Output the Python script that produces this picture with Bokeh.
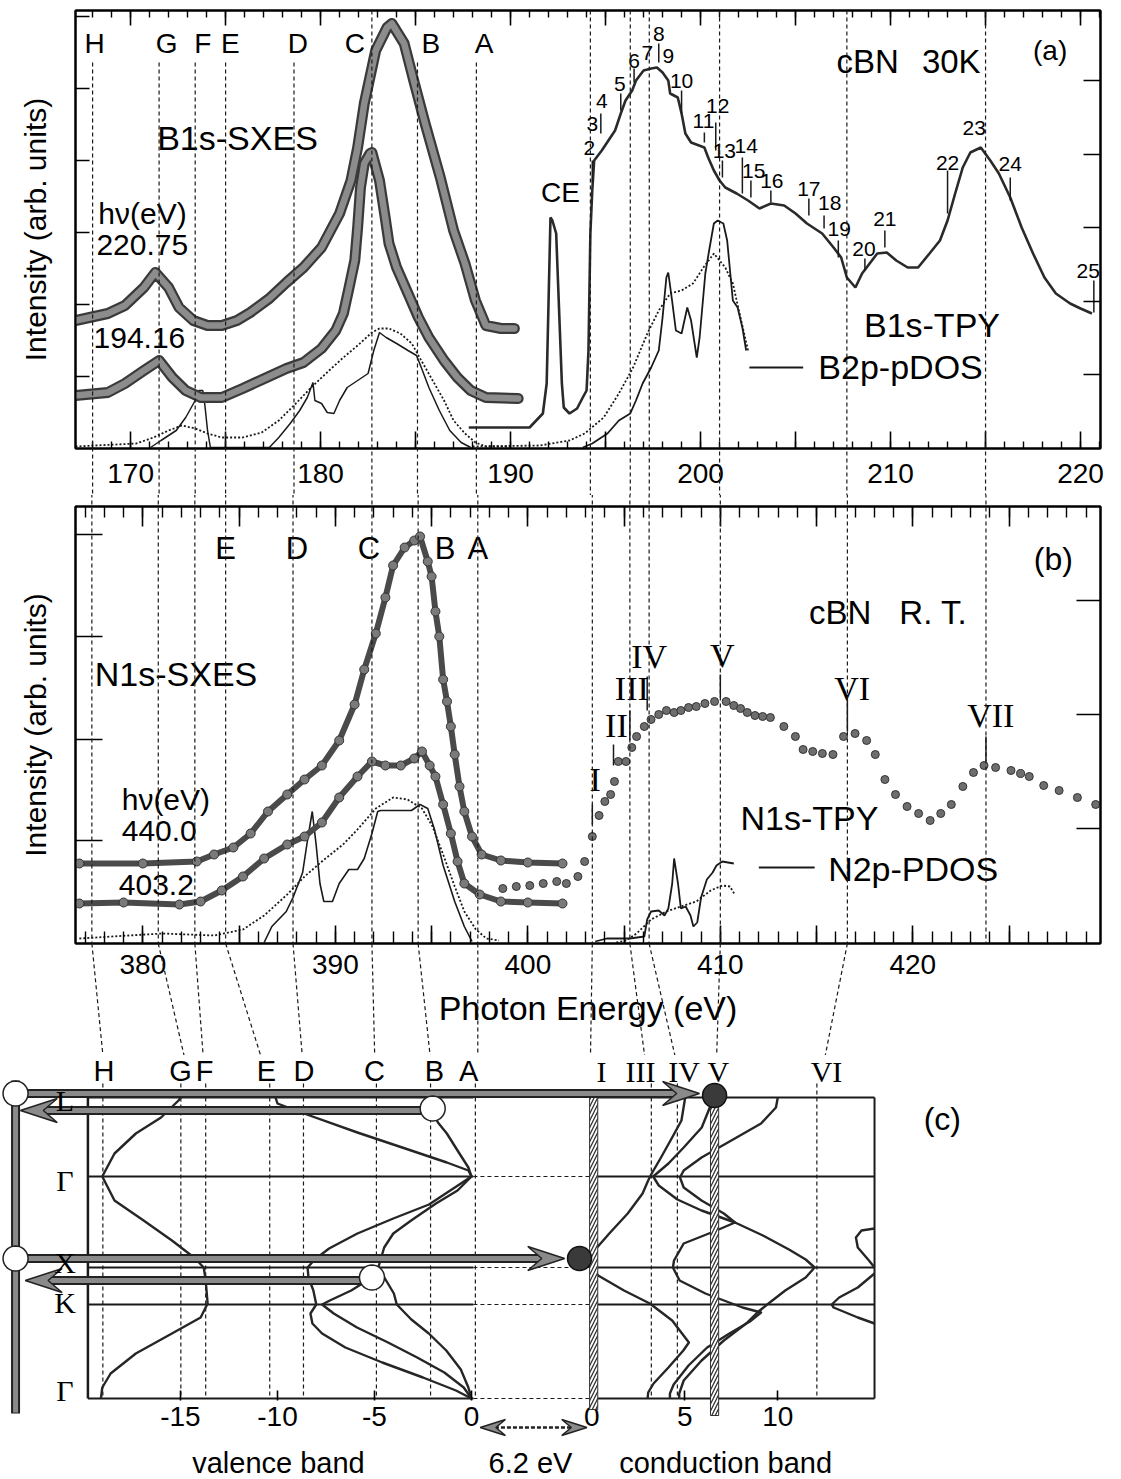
import numpy as np
from bokeh.plotting import figure
from bokeh.models import (Range1d, LinearAxis, FixedTicker, SingleIntervalTicker,
                          CustomJSTickFormatter)
from bokeh.layouts import column
from bokeh.embed import file_html
from bokeh.resources import INLINE
from bokeh.core.properties import value

SANS = "Liberation Sans"
SERIF = "Liberation Serif"
INK = "#1a1a1a"
DASH = "4 3"


def xy(pairs):
    return [p[0] for p in pairs], [p[1] for p in pairs]

# ====================== Panel (a): B 1s (photon energy eV, intensity arb.) ======================
a_sxes_220 = [(167.1,128),(168.8,135),(169.7,143),(170.7,161),(171.3,176),(172.0,161),(172.55,141),
              (173.3,128),(174.05,123),(174.8,123),(175.6,128),(176.3,136),(177.3,150),(178.2,166),
              (179.1,181),(180.05,201),(181.0,235),(181.6,268),(181.95,301),(182.3,345),(182.9,398),
              (183.5,421),(183.75,425),(184.4,405),(184.9,368),(185.5,325),(186.3,271),(187.0,218),
              (187.6,185),(188.15,148),(188.7,123),(189.5,120),(190.2,120)]
a_sxes_194 = [(167.1,53),(168.8,56),(169.7,65),(170.7,78),(171.5,88),(172.2,71),(172.9,58),(173.7,51),
              (174.8,51),(175.9,60),(177.05,70),(178.2,80),(179.1,86),(180.05,100),(180.8,118),(181.2,135),
              (181.5,161),(181.8,188),(181.95,221),(182.1,261),(182.3,285),(182.6,295),(182.7,296),
              (183.1,268),(183.4,231),(183.6,205),(184.0,181),(184.6,155),(185.15,131),(185.7,111),
              (186.5,88),(187.2,71),(187.9,58),(188.7,51),(190.4,50)]
a_val_broad = [(167.1,2),(170.3,5),(171.2,11),(172.0,18),(172.7,23),(173.4,20),(174.05,15),(174.8,11),
               (175.9,11),(176.9,16),(177.8,28),(178.7,45),(179.5,61),(180.45,78),(181.2,91),(181.95,103),
               (182.7,116),(183.1,120),(183.6,120),(184.2,115),(184.8,105),(185.3,88),(185.9,68),
               (186.5,48),(187.0,28),(187.6,15),(188.15,6),(188.7,2),(190.0,2)]
a_val_pdos = [(171.05,1),(171.6,8),(172.4,18),(172.9,31),(173.4,48),(173.6,58),(173.8,58),(173.9,45),
              (174.05,18),(174.2,1),(177.3,1),(177.8,11),(178.4,25),(178.9,38),(179.3,51),(179.6,66),
              (179.7,48),(180.05,45),(180.35,36),(180.7,35),(181.0,48),(181.4,61),(181.95,68),(182.5,75),
              (182.8,98),(183.1,116),(183.45,111),(184.0,105),(184.6,98),(185.05,93),(185.3,81),
              (185.7,61),(186.25,38),(186.8,18),(187.4,6),(187.9,1)]
a_tpy = [(187.8,21),(191.0,21),(191.7,35),(191.9,65),(192.0,148),(192.1,231),(192.2,228),(192.4,215),
         (192.5,165),(192.6,115),(192.7,65),(192.8,41),(193.1,35),(193.5,40),(193.8,51),(194.0,58),
         (194.1,98),(194.2,215),(194.3,258),(194.4,288),(194.8,298),(195.15,308),(195.5,318),(195.8,335),
         (196.05,348),(196.4,358),(196.6,368),(197.0,378),(197.4,380),(197.7,381),(198.0,376),(198.3,368),
         (198.4,355),(198.8,351),(199.0,335),(199.2,315),(199.5,306),(200.2,301),(200.4,291),(200.7,278),
         (201.0,268),(201.3,261),(201.9,255),(202.5,248),(203.1,240),(203.7,245),(204.4,243),(205.0,235),
         (205.6,225),(206.4,215),(207.0,201),(207.4,191),(207.7,171),(208.15,161),(208.5,175),(208.9,185),
         (209.3,195),(209.8,196),(210.3,188),(210.9,181),(211.45,181),(212.05,195),(212.6,208),(213.0,228),
         (213.4,255),(213.8,281),(214.2,296),(214.75,301),(215.25,288),(215.7,275),(216.3,251),(216.9,221),
         (217.5,195),(218.1,171),(218.7,155),(219.45,145),(220.0,140),(220.6,135)]
a_cb_pdos = [(193.8,1),(194.3,5),(195.1,15),(195.7,28),(196.3,35),(196.6,48),(196.95,65),(197.4,81),
             (197.8,98),(198.0,131),(198.2,171),(198.3,176),(198.5,148),(198.7,118),(199.0,115),(199.3,141),
             (199.5,128),(199.8,91),(199.95,111),(200.25,175),(200.45,198),(200.7,225),(200.9,228),
             (201.2,225),(201.4,208),(201.6,168),(201.7,148),(201.95,141),(202.2,121),(202.4,98)]
a_cb_broad = [(188.0,2),(191.55,3),(193.1,8),(193.9,15),(194.9,31),(195.7,55),(196.45,81),(197.2,115),
              (197.8,138),(198.4,155),(199.0,158),(199.6,165),(200.15,181),(200.7,195),(201.3,181),
              (201.7,165),(202.1,131),(202.5,98)]
a_feat_left = [168.0, 171.5, 173.4, 175.0, 178.6, 182.7, 185.1, 188.2]
a_feat_left_top = [386, 386, 386, 386, 386, 438, 386, 386]
a_feat_right = [194.2, 196.3, 197.3, 201.0, 207.7, 215.0]
a_letters = ["H", "G", "F", "E", "D", "C", "B", "A"]
a_letter_E = [168.1, 171.9, 173.8, 175.25, 178.8, 181.8, 185.8, 188.6]
a_num_text = ["2","3","4","5","6","7","8","9","10","11","12","13","14","15","16","17","18","19",
              "20","21","22","23","24","25"]
a_num_E = [194.15,194.3,194.8,195.75,196.5,197.2,197.8,198.3,199.0,200.15,200.9,201.25,202.4,202.8,
           203.75,205.7,206.8,207.3,208.6,209.7,213.0,214.4,216.3,220.4]
a_num_I = [301,325,348,365,388,396,415,393,368,328,343,298,303,278,268,260,246,220,200,230,286,321,285,178]
a_tick_E = [194.3,194.75,195.8,196.5,197.8,199.0,200.2,200.8,201.15,202.2,202.65,203.7,205.7,206.5,
            207.25,208.65,209.7,213.0,216.3,220.7]
a_tick_lo = [266,315,338,366,386,335,306,298,271,255,251,246,233,220,191,178,201,235,248,136]
a_tick_hi = [288,335,355,380,405,358,316,326,288,291,268,258,250,233,208,190,218,278,271,168]
a_left_ticks = [72, 144, 216, 288, 360, 432]
a_right_ticks = [74, 147.5, 221, 294.5, 368]

# ====================== Panel (b): N 1s ======================
b_sxes_440 = [(376.7,80),(380.0,80),(382.8,82),(383.7,89),(384.7,96),(385.6,110),(386.5,132),(387.5,149),
              (388.4,164),(389.3,178),(390.2,203),(391.0,239),(391.5,274),(392.1,310),(392.6,346),
              (393.0,378),(393.6,396),(394.1,403),(394.4,407),(394.8,382),(395.0,367),(395.2,332),
              (395.4,307),(395.6,264),(395.8,242),(396.0,217),(396.2,189),(396.45,157),(396.7,132),
              (397.1,107),(397.6,89),(398.6,83),(400.0,81),(401.8,80)]
b_sxes_403 = [(376.7,40),(379.0,41),(381.9,39),(383.0,42),(384.1,53),(385.2,67),(386.3,85),(387.5,99),
              (388.4,107),(389.3,121),(390.2,146),(391.15,167),(391.9,182),(392.6,178),(393.4,178),
              (394.1,185),(394.5,192),(394.9,178),(395.2,167),(395.6,139),(396.0,110),(396.35,82),
              (396.7,60),(397.5,49),(398.6,42),(400.0,41),(401.8,40)]
b_val_broad = [(376.7,5),(381.0,10),(383.7,8),(385.2,14),(386.3,28),(387.5,49),(388.4,67),(389.3,82),
               (390.4,99),(391.15,114),(392.1,135),(393.0,146),(393.75,144),(394.5,135),(395.05,117),
               (395.6,89),(396.2,57),(396.7,32),(397.3,14),(397.85,5),(398.5,3)]
b_val_pdos = [(386.3,1),(386.7,17),(387.45,32),(387.8,46),(388.3,71),(388.55,103),(388.8,132),(389.0,99),
              (389.2,60),(389.4,42),(389.85,42),(390.2,60),(390.7,74),(391.15,74),(391.5,85),(391.9,110),
              (392.2,132),(392.35,133),(393.95,133),(394.4,139),(394.8,135),(395.15,114),(395.6,78),
              (396.2,42),(396.7,17),(397.1,2)]
b_tpy = [(398.7,55),(399.4,57),(400.1,58),(400.8,60),(401.5,62),(402.0,60),(402.6,67),(402.95,82),
         (403.35,107),(403.7,128),(404.0,142),(404.3,149),(404.5,162),(404.7,182),(405.1,182),(405.4,196),
         (405.65,207),(406.05,217),(406.4,224),(406.8,229),(407.2,233),(407.6,231),(407.95,233),(408.35,236),
         (408.75,237),(409.2,240),(409.7,242),(410.3,242),(410.7,238),(411.05,235),(411.4,231),(411.8,228),
         (412.2,227),(412.6,226),(413.3,217),(413.9,207),(414.3,194),(414.8,192),(415.3,190),(415.85,189),
         (416.4,207),(417.0,210),(417.6,203),(418.05,189),(418.55,164),(419.1,149),(419.7,137),(420.3,130),
         (420.9,123),(421.45,130),(422.0,139),(422.6,157),(423.15,171),(423.7,178),(424.3,176),(425.1,173),
         (425.6,170),(426.05,167),(426.8,158),(427.6,153),(428.55,146),(429.5,139)]
b_cb_pdos = [(403.5,2),(404.1,5),(405.3,5),(406.05,7),(406.2,24),(406.4,32),(406.8,33),(407.1,28),
             (407.3,35),(407.5,60),(407.6,85),(407.8,60),(407.95,35),(408.2,37),(408.45,28),(408.6,17),
             (408.8,21),(409.0,46),(409.3,64),(409.6,71),(409.8,78),(410.1,82),(410.7,80)]
b_cb_broad = [(404.6,1),(405.1,3),(405.65,10),(406.4,24),(407.2,32),(407.95,37),(408.75,42),(409.5,53),
              (410.1,58),(410.5,57),(410.75,49)]
b_feat_left = [377.35, 380.8, 382.7, 384.3, 387.8, 391.9, 394.3, 397.4]
b_feat_left_end = [377.95, 382.2, 383.15, 386.2, 388.3, 392.05, 394.95, 397.4]
b_feat_right = [403.35, 405.3, 406.3, 410.0, 416.6]
b_feat_right_end = [403.25, 406.1, 407.7, 409.8, 415.4]
b_feat_vii = 423.8
b_letters = ["E", "D", "C", "B", "A"]
b_letter_E = [384.3, 388.0, 391.75, 395.7, 397.4]
b_roman = ["I", "II", "III", "IV", "V", "VI", "VII"]
b_roman_E = [403.5, 404.6, 405.4, 406.3, 410.1, 416.85, 424.05]
b_roman_I = [164, 218, 255, 287, 288, 255, 228]
b_tick_E = [403.35, 404.45, 405.3, 406.2, 410.0, 416.6, 423.8]
b_tick_lo = [119, 178, 203, 233, 246, 212, 182]
b_tick_hi = [139, 199, 233, 267, 269, 244, 207]
b_left_ticks = [103, 204, 307, 409]
b_right_ticks = [115.5, 229, 343]

# ====================== Panel (c): band structure (energy eV, k-path) ======================
c_k = [0, 79, 170, 207, 301]
c_k_labels = ["L", "Γ", "X", "K", "Γ"]
c_k_label_pos = [3, 83, 165, 205, 293]
c_gap = 6.2
c_vb_left, c_vb_right, c_cb_right = -19.77, 0.1, 15.2
c_vb_feat = [-19.0, -14.98, -13.7, -10.4, -8.66, -4.9, -2.11, 0.2]
c_vb_letters = ["H", "G", "F", "E", "D", "C", "B", "A"]
c_vb_letter_E = [-18.94, -15.0, -13.75, -10.57, -8.63, -5.0, -1.91, -0.15]
c_cb_feat = [3.2, 4.6, 12.1]
c_cb_bars = [0.1, 6.6]
c_cb_roman = ["I", "III", "IV", "V", "VI"]
c_cb_roman_E = [0.52, 2.62, 4.96, 6.8, 12.62]
c_vb1 = [(-14.98,0),(-15.1,3),(-16.0,20),(-17.3,36),(-18.4,56),(-19.03,79),(-18.4,103),(-16.9,123),
         (-15.44,143),(-14.3,160),(-13.8,170),(-13.7,183),(-13.6,206),(-13.96,220),(-15.44,236),
         (-17.3,256),(-18.6,276),(-19.03,290),(-19.1,301)]
c_vb2 = [(-10.1,0),(-10.0,6),(-8.63,16),(-5.88,35),(-3.11,53),(-1.27,65),(-0.16,73),(0,79),(-2.19,107),
         (-4.03,121),(-5.88,136),(-7.34,151),(-8.08,162),(-8.45,170),(-8.4,180),(-8.15,193),(-8.0,207),
         (-8.3,216),(-8.2,226),(-7.7,236),(-6.5,250),(-4.6,265),(-2.5,280),(-0.8,293),(0,301)]
c_vb3 = [(-2.0,0),(-2.0,14),(-1.73,25),(-1.27,36),(-0.72,53),(-0.16,70),(0,79),(-0.72,93),(-1.83,106),
         (-3.11,123),(-4.03,136),(-4.5,150),(-4.7,163),(-4.8,170),(-5.13,180),(-6.2,193),(-7.3,203),
         (-7.7,207),(-7.1,216),(-5.9,230),(-4.3,245),(-2.8,260),(-1.4,275),(-0.4,290),(0,301)]
c_vb4 = [(-4.8,170),(-4.4,183),(-4.0,196),(-3.85,207),(-3.1,222),(-2.2,236),(-1.3,253),(-0.55,272),
         (-0.16,290),(0,301)]
c_cb1 = [(5.02,0),(4.82,23),(4.32,40),(3.72,60),(3.22,76),(3.03,83),(2.73,96),(1.93,116),(0.94,136),
         (0.14,153),(0.0,163),(0.04,171),(0.34,178),(1.73,193),(3.12,206),(4.32,223),(5.22,245),
         (4.92,253),(4.12,270),(3.32,286),(3.03,295),(3.0,301)]
c_cb2 = [(6.55,0),(6.3,12),(5.91,30),(4.94,50),(4.12,66),(3.3,79),(3.6,88),(4.6,102),(5.9,113),
         (7.7,125),(9.2,138),(10.6,152),(11.5,162),(11.98,170),(11.5,180),(10.4,193),(9.5,206),
         (8.9,215),(8.3,226),(7.1,243),(5.9,263),(4.94,283),(4.7,296),(4.7,301)]
c_cb3 = [(10.0,0),(9.9,10),(9.1,26),(7.5,43),(5.9,60),(4.94,73),(4.74,80),(4.94,90),(5.9,103),
         (7.1,116),(7.7,125),(6.7,133),(4.94,146),(4.42,163),(4.36,170),(4.72,183),(6.11,196),
         (8.1,210),(9.1,215),(8.5,224),(7.4,236),(6.2,250),(5.2,268),(4.4,287),(4.2,296),(4.2,301)]
c_cb4 = [(15.2,131),(14.5,133),(14.2,140),(14.3,150),(14.9,163),(15.2,170)]
c_cb5 = [(15.2,176),(14.3,190),(13.3,200),(12.9,207),(13.0,210),(14.3,220),(15.2,226)]
c_path_E = -23.5
c_open_pts = [(-23.5, -4), (-23.5, 161), (-2.0, 11), (-5.13, 180)]
c_cb_dots = [(6.6, -2), (-0.66, 161)]
c_arrows = [(-23.5, -4, 11.75, -4), (-2.0, 13, -23.25, 13), (-23.5, 161, 4.8, 161), (-5.13, 183, -23.0, 183)]
c_bottom_text = ["valence band", "6.2 eV", "conduction band"]
c_bottom_text_E = [-9.95, 3.04, 13.1]

# ====================== helpers ======================
W = 1121


def base_fig(xr, yr, height, top, bottom, left=75, right=21):
    p = figure(width=W, height=height, x_range=xr, y_range=yr, output_backend="svg",
               toolbar_location=None, x_axis_location=None, y_axis_location=None,
               min_border_left=left, min_border_right=right, min_border_top=top,
               min_border_bottom=bottom)
    p.background_fill_color = "white"
    p.border_fill_color = "white"
    p.outline_line_color = "black"
    p.outline_line_width = 2
    p.grid.visible = False
    return p


def style_axis(ax, major_in, minor_in=0, labels=False, size="28px", standoff=10):
    ax.axis_line_color = "black"
    ax.axis_line_width = 2
    ax.major_tick_in = major_in
    ax.major_tick_out = 0
    ax.major_tick_line_color = "black"
    ax.major_tick_line_width = 1.6
    ax.minor_tick_in = minor_in
    ax.minor_tick_out = 0
    ax.minor_tick_line_color = "black" if minor_in else None
    ax.minor_tick_line_width = 1.4
    ax.major_label_text_font = SANS
    ax.major_label_text_font_size = size
    ax.major_label_standoff = standoff
    if labels:
        ax.major_label_text_color = "black"
    else:
        ax.formatter = CustomJSTickFormatter(code="return '';")
        ax.major_label_text_color = None


def spectra_axes(p, lt, rt, llen, rlen, tlen, blen, standoff):
    fmt = CustomJSTickFormatter(code="return (Math.abs(tick % 10) < 1e-6) ? tick.toFixed(0) : '';")
    bot = LinearAxis(ticker=SingleIntervalTicker(interval=5, num_minor_ticks=5), formatter=fmt)
    style_axis(bot, blen[0], blen[1], labels=True, standoff=standoff)
    p.add_layout(bot, "below")
    top = LinearAxis(ticker=SingleIntervalTicker(interval=5, num_minor_ticks=5))
    style_axis(top, tlen[0], tlen[1])
    p.add_layout(top, "above")
    lft = LinearAxis(ticker=FixedTicker(ticks=lt))
    style_axis(lft, llen)
    lft.axis_label = "Intensity (arb. units)"
    lft.axis_label_text_font = SANS
    lft.axis_label_text_font_size = "30px"
    lft.axis_label_text_font_style = "normal"
    lft.axis_label_text_color = "black"
    lft.axis_label_standoff = 24
    p.add_layout(lft, "left")
    rgt = LinearAxis(ticker=FixedTicker(ticks=rt))
    style_axis(rgt, rlen)
    p.add_layout(rgt, "right")
    return bot


def dashed(p, x0, y0, x1, y1, xr="default"):
    # guide lines that run through the axis margins: drawn above the frame clip
    p.segment(x0=x0, y0=y0, x1=x1, y1=y1, line_color=INK, line_width=1.2, line_dash=DASH,
              x_range_name=xr, level="overlay")


def txt(p, x, y, s, size, font=SANS, align="left", baseline="middle", xr="default", level="glyph"):
    p.text(x=[x], y=[y], text=[s], text_font=value(font), text_font_size=size, text_align=align,
           text_baseline=baseline, text_color="black", x_range_name=xr, level=level)


def thick_band(p, pairs):
    e, i = xy(pairs)
    p.line(e, i, line_width=11, color="#3a3a3a", line_join="round", line_cap="round")
    p.line(e, i, line_width=6.5, color="#8c8c8c", line_join="round", line_cap="round")

# ====================== Panel (a) ======================
pa = base_fig(Range1d(167.1, 221.05), Range1d(0, 438), 495, 10, 47)
spectra_axes(pa, a_left_ticks, a_right_ticks, 14, 17, (15, 7), (17, 7), 15)

e, i = xy(a_val_broad); pa.line(e, i, line_dash="2 2", line_width=1.8, color=INK)
e, i = xy(a_val_pdos); pa.line(e, i, line_width=1.5, color=INK)
e, i = xy(a_cb_broad); pa.line(e, i, line_dash="2 2", line_width=1.8, color=INK)
e, i = xy(a_cb_pdos); pa.line(e, i, line_width=1.8, color=INK)
thick_band(pa, a_sxes_194)
thick_band(pa, a_sxes_220)
e, i = xy(a_tpy); pa.line(e, i, line_width=2.6, color="#2a2a2a")
pa.segment(x0=a_tick_E, y0=a_tick_lo, x1=a_tick_E, y1=a_tick_hi, line_width=1.5, color=INK)
pa.text(x=a_num_E, y=a_num_I, text=a_num_text, text_font=value(SANS), text_font_size="21px",
        text_align="center", text_baseline="middle", text_color="black")
pa.text(x=a_letter_E, y=[405] * len(a_letter_E), text=a_letters, text_font=value(SANS),
        text_font_size="28px", text_align="center", text_baseline="middle", text_color="black")
txt(pa, 171.4, 311, "B1s-SXES", "34px")
txt(pa, 168.3, 235, "hν(eV)", "30px")
txt(pa, 168.2, 204, "220.75", "30px")
txt(pa, 168.05, 111, "194.16", "30px")
txt(pa, 191.6, 256, "CE", "28px")
txt(pa, 207.15, 387, "cBN", "33px")
txt(pa, 211.65, 387, "30K", "33px")
txt(pa, 218.4, 398, "(a)", "28px", align="center")
txt(pa, 208.6, 123.5, "B1s-TPY", "34px")
pa.segment(x0=[202.57], y0=[81], x1=[205.4], y1=[81], line_width=2, color=INK)
txt(pa, 206.2, 82, "B2p-pDOS", "34px")
a_all = a_feat_left + a_feat_right
a_tops = a_feat_left_top + [438] * len(a_feat_right)
dashed(pa, a_all, a_tops, a_all, [-50] * len(a_all))

# ====================== Panel (b) ======================
pb = base_fig(Range1d(376.5, 429.75), Range1d(0, 437), 560, 11, 112)
bb = spectra_axes(pb, b_left_ticks, b_right_ticks, 27, 24, (20, 11), (18, 12), 11)
bb.axis_label = "Photon Energy (eV)"
bb.axis_label_text_font = SANS
bb.axis_label_text_font_size = "34px"
bb.axis_label_text_font_style = "normal"
bb.axis_label_text_color = "black"
bb.axis_label_standoff = 12

e, i = xy(b_val_broad); pb.line(e, i, line_dash="2 2", line_width=1.8, color=INK)
e, i = xy(b_val_pdos); pb.line(e, i, line_width=1.6, color=INK)
e, i = xy(b_cb_broad); pb.line(e, i, line_dash="2 2", line_width=1.8, color=INK)
e, i = xy(b_cb_pdos); pb.line(e, i, line_width=1.8, color=INK)
for pairs in (b_sxes_403, b_sxes_440):
    e, i = xy(pairs)
    pb.line(e, i, line_width=6, color="#4a4a4a", line_join="round")
    pb.scatter(e, i, size=9, fill_color="#7a7a7a", line_color="#333333", line_width=1)
e, i = xy(b_tpy)
pb.scatter(e, i, size=8, fill_color="#6e6e6e", line_color="#333333", line_width=1)
pb.segment(x0=b_tick_E, y0=b_tick_lo, x1=b_tick_E, y1=b_tick_hi, line_width=1.5, color=INK)
pb.text(x=b_roman_E, y=b_roman_I, text=b_roman, text_font=value(SERIF), text_font_size="34px",
        text_align="center", text_baseline="middle", text_color="black")
pb.text(x=b_letter_E, y=[395] * len(b_letter_E), text=b_letters, text_font=value(SANS),
        text_font_size="31px", text_align="center", text_baseline="middle", text_color="black")
txt(pb, 377.5, 270, "N1s-SXES", "34px")
txt(pb, 378.9, 144, "hν(eV)", "30px")
txt(pb, 378.9, 113, "440.0", "30px")
txt(pb, 378.75, 59, "403.2", "30px")
txt(pb, 427.3, 385, "(b)", "32px", align="center")
txt(pb, 414.6, 331.5, "cBN", "33px")
txt(pb, 419.3, 331.5, "R. T.", "33px")
txt(pb, 411.05, 126, "N1s-TPY", "34px")
pb.segment(x0=[412.0], y0=[76], x1=[414.9], y1=[76], line_width=2, color=INK)
txt(pb, 415.6, 74.5, "N2p-PDOS", "34px")
b_top = b_feat_left + b_feat_right + [b_feat_vii]
dashed(pb, b_top, [450] * len(b_top), b_top, [0] * len(b_top))
b_from = b_feat_left + b_feat_right
b_to = b_feat_left_end + b_feat_right_end
dashed(pb, b_from, [0] * len(b_from), b_to, [-117] * len(b_to))

# ====================== Panel (c) ======================
# frame shares the x extent of the panels above (column layout aligns frames)
VB = (-20.41, 32.42)
CB = (-27.76, 27.35)
pc = figure(width=W, height=424, x_range=Range1d(*VB), y_range=Range1d(303, -42),
            output_backend="svg", toolbar_location=None, x_axis_location=None, y_axis_location=None,
            min_border_left=75, min_border_right=21, min_border_top=0, min_border_bottom=79)
pc.extra_x_ranges = {"cb": Range1d(*CB)}
pc.outline_line_color = None
pc.background_fill_color = "white"
pc.border_fill_color = "white"
pc.grid.visible = False
PX_PER_EV = 1025 / (VB[1] - VB[0])   # frame width / valence span (k axis: 1 unit per pixel)


def cb_to_vb(v):
    return VB[0] + (v - CB[0]) * (VB[1] - VB[0]) / (CB[1] - CB[0])


ticks = [-15, -10, -5, 0] + [cb_to_vb(v) for v in (0, 5, 10)]
tlabels = ["-15", "-10", "-5", "0", "0", "5", "10"]
cax = LinearAxis(ticker=FixedTicker(ticks=ticks))
style_axis(cax, 10, 0, labels=True, standoff=6)
cax.formatter = CustomJSTickFormatter(args=dict(tk=ticks, lb=tlabels), code="""
const i = tk.findIndex(t => Math.abs(t - tick) < 1e-6); return i >= 0 ? lb[i] : '';""")
cax.axis_line_color = None
pc.add_layout(cax, "below")

OV = "overlay"
# boxes
pc.segment(x0=[c_vb_left] * 5, x1=[c_vb_right] * 5, y0=c_k, y1=c_k, line_width=2, color=INK)
pc.segment(x0=[c_vb_left], x1=[c_vb_left], y0=[0], y1=[301], line_width=2.5, color=INK)
pc.segment(x0=[0] * 5, x1=[c_cb_right] * 5, y0=c_k, y1=c_k, line_width=2, color=INK, x_range_name="cb")
pc.segment(x0=[c_cb_right], x1=[c_cb_right], y0=[0], y1=[301], line_width=2, color=INK, x_range_name="cb")
pc.segment(x0=[c_vb_right] * 4, x1=[c_gap] * 4, y0=c_k[1:], y1=c_k[1:], line_width=1.2,
           line_dash=DASH, color=INK)
pc.segment(x0=c_vb_feat, x1=c_vb_feat, y0=[-14] * len(c_vb_feat), y1=[301] * len(c_vb_feat),
           line_width=1.2, line_dash=DASH, color=INK)
pc.segment(x0=c_cb_feat, x1=c_cb_feat, y0=[-14] * 3, y1=[301] * 3, line_width=1.2, line_dash=DASH,
           color=INK, x_range_name="cb")
# bands
for band in (c_vb1, c_vb2, c_vb3, c_vb4):
    e, k = xy(band)
    pc.line(e, k, line_width=2.4, color="#262626", line_join="round")
for band in (c_cb1, c_cb2, c_cb3, c_cb4, c_cb5):
    e, k = xy(band)
    pc.line(e, k, line_width=2.4, color="#262626", line_join="round", x_range_name="cb")
# hatched markers I and V
pc.quad(left=[b - 0.22 for b in c_cb_bars], right=[b + 0.22 for b in c_cb_bars], top=[-3, -3],
        bottom=[312, 318], fill_color="white", line_color="#333", line_width=1,
        hatch_pattern="/", hatch_color="#333", hatch_scale=7, hatch_weight=1.3, x_range_name="cb",
        level=OV)
# k-path bar (left of the valence box)
pc.segment(x0=[c_path_E], x1=[c_path_E], y0=[-17], y1=[316], line_width=9, color="#222", level=OV)
pc.segment(x0=[c_path_E], x1=[c_path_E], y0=[-16], y1=[315], line_width=5, color="#8a8a8a", level=OV)


def vee(p, xt, yt, d, L, h, level=OV):
    p.patch(x=[xt, xt - d * L, xt - d * L * 0.62, xt - d * L], y=[yt, yt - h, yt, yt + h],
            fill_color="#8a8a8a", line_color="#222", line_width=1.5, level=level)


# transition arrows
for x0, y0, x1, y1 in c_arrows:
    d = 1.0 if x1 > x0 else -1.0
    pc.segment(x0=[x0], y0=[y0], x1=[x1 - d * 1.1], y1=[y1], line_width=9, color="#222", level=OV)
    pc.segment(x0=[x0], y0=[y0], x1=[x1 - d * 1.2], y1=[y1], line_width=5, color="#8a8a8a", level=OV)
    vee(pc, x1, y1, d, 1.9, 12)
# open circles (round markers drawn as small polygons so they also show left of the frame)
ang = np.linspace(0.0, 2.0 * np.pi, 41)
R_PX = 12.5
for cx, cy in c_open_pts:
    pc.patch(x=list(cx + (R_PX / PX_PER_EV) * np.cos(ang)), y=list(cy + R_PX * np.sin(ang)),
             fill_color="white", line_color="#222", line_width=1.5, level=OV)
dx, dy = xy(c_cb_dots)
pc.scatter(dx, dy, size=24, fill_color="#3a3a3a", line_color="#111", line_width=1.5, x_range_name="cb",
           level=OV)
# labels
pc.text(x=c_vb_letter_E, y=[-27] * len(c_vb_letter_E), text=c_vb_letters, text_font=value(SANS),
        text_font_size="29px", text_align="center", text_baseline="middle", text_color="black")
pc.text(x=c_cb_roman_E, y=[-26] * len(c_cb_roman_E), text=c_cb_roman, text_font=value(SERIF),
        text_font_size="30px", text_align="center", text_baseline="middle", text_color="black",
        x_range_name="cb")
pc.text(x=[-20.95] * 5, y=c_k_label_pos, text=c_k_labels, text_font=value(SERIF),
        text_font_size="30px", text_align="center", text_baseline="middle", text_color="black", level=OV)
txt(pc, 24.27, 21, "(c)", "32px", align="center")
# 6.2 eV gap marker below the boxes
pc.segment(x0=[0.9], y0=[330], x1=[5.5], y1=[330], line_dash="4 2", line_width=2.5, color="#222", level=OV)
vee(pc, 0.45, 330, -1.0, 1.3, 8)
vee(pc, 5.95, 330, 1.0, 1.3, 8)
pc.text(x=c_bottom_text_E, y=[365] * 3, text=c_bottom_text, text_font=value(SANS),
        text_font_size="29px", text_align="center", text_baseline="middle", text_color="black", level=OV)

layout = column(pa, pb, pc)
open("out.html", "w").write(file_html(layout, INLINE))
